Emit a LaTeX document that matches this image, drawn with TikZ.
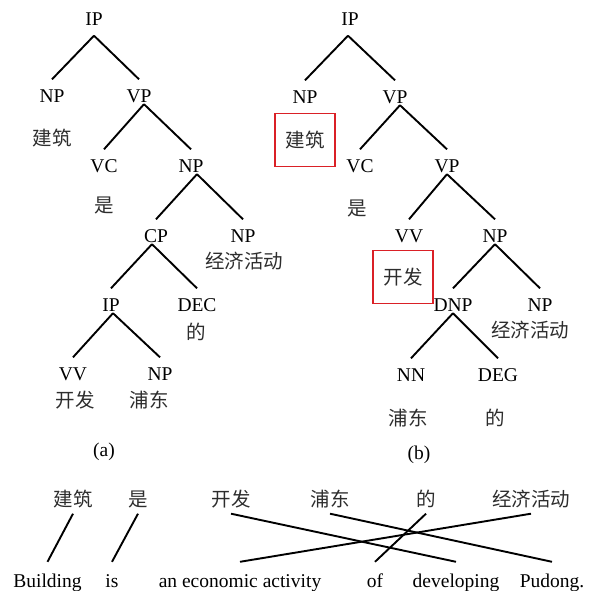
\documentclass[tikz,border=0pt]{standalone}
\usepackage{fontspec}
\setmainfont{Liberation Serif}
\newfontfamily\cjk{Noto Sans CJK SC}
\usepackage{xcolor}
\usepackage{tikz}
\definecolor{boxred}{RGB}{218,32,38}
\definecolor{zhgray}{RGB}{45,45,45}

\begin{document}
\begin{tikzpicture}[x=1pt, y=-1pt,
    tag/.style={anchor=base, inner sep=0pt, text height=23pt, text depth=1.5pt, font=\fontsize{19.5}{22}\selectfont},
    root/.style={tag, text depth=10pt},
    zh/.style={anchor=base, inner sep=0pt, text height=16pt, text depth=2pt, text=zhgray, font=\cjk\fontsize{19.5}{22}\selectfont},
    hlbox/.style={zh, draw=boxred, line width=1.5pt, minimum width=60pt, minimum height=53pt},
    src/.style={zh, text depth=7.5pt},
    tgt/.style={anchor=base, inner sep=0pt, text height=25.5pt, text depth=0pt, font=\fontsize{19.5}{22}\selectfont},
    branch/.style={line width=1.9pt},
    link/.style={line width=1.9pt}]
    \useasboundingbox (0,0) rectangle (589,591);

    % tree (a)
    \node[root] (a-ip) at (94,25.5) {IP};
    \node[tag] (a-np) at (52,102.5) {NP};
    \node[tag] (a-vp) at (139,102.5) {VP};
    \node[zh] (a-jz) at (52,145) {建筑};
    \node[tag] (a-vc) at (104,172.5) {VC};
    \node[tag] (a-np2) at (191,172.5) {NP};
    \node[zh] (a-shi) at (104,212) {是};
    \node[tag] (a-cp) at (156,242.5) {CP};
    \node[tag] (a-np3) at (243,242.5) {NP};
    \node[zh] (a-jj) at (244,268) {经济活动};
    \node[tag] (a-ip2) at (111,311.5) {IP};
    \node[tag] (a-dec) at (197,311.5) {DEC};
    \node[zh] (a-de) at (196,339) {的};
    \node[tag] (a-vv) at (73,380.5) {VV};
    \node[tag] (a-np4) at (160,380.5) {NP};
    \node[zh] (a-kf) at (75,407) {开发};
    \node[zh] (a-pd) at (149,407) {浦东};
    \node[tag] (cap-a) at (104,456) {(a)};

    \draw[branch] (a-ip.south) -- (a-np.north);
    \draw[branch] (a-ip.south) -- (a-vp.north);
    \draw[branch] ([xshift=5pt]a-vp.south) -- (a-vc.north);
    \draw[branch] ([xshift=5pt]a-vp.south) -- (a-np2.north);
    \draw[branch] ([xshift=6pt]a-np2.south) -- (a-cp.north);
    \draw[branch] ([xshift=6pt]a-np2.south) -- (a-np3.north);
    \draw[branch] ([xshift=-4pt]a-cp.south) -- (a-ip2.north);
    \draw[branch] ([xshift=-4pt]a-cp.south) -- (a-dec.north);
    \draw[branch] ([xshift=2pt]a-ip2.south) -- (a-vv.north);
    \draw[branch] ([xshift=2pt]a-ip2.south) -- (a-np4.north);

    % tree (b)
    \node[root] (b-ip) at (350,25.5) {IP};
    \node[tag] (b-np) at (305,103.5) {NP};
    \node[tag] (b-vp) at (395,103.5) {VP};
    \node[hlbox] (b-jz) at (305,147) {建筑};
    \node[tag] (b-vc) at (360,172.5) {VC};
    \node[tag] (b-vp2) at (447,172.5) {VP};
    \node[zh] (b-shi) at (357,215) {是};
    \node[tag] (b-vv) at (409,242.5) {VV};
    \node[tag] (b-np2) at (495,242.5) {NP};
    \node[hlbox] (b-kf) at (403,284) {开发};
    \node[tag] (b-dnp) at (453,311.5) {DNP};
    \node[tag] (b-np3) at (540,311.5) {NP};
    \node[zh] (b-jj) at (530,337) {经济活动};
    \node[tag] (b-nn) at (411,381.5) {NN};
    \node[tag] (b-deg) at (498,381.5) {DEG};
    \node[zh] (b-pd) at (408,425) {浦东};
    \node[zh] (b-de) at (495,425) {的};
    \node[tag] (cap-b) at (419,459) {(b)};

    \draw[branch] ([xshift=-2pt]b-ip.south) -- (b-np.north);
    \draw[branch] ([xshift=-2pt]b-ip.south) -- (b-vp.north);
    \draw[branch] ([xshift=5pt]b-vp.south) -- (b-vc.north);
    \draw[branch] ([xshift=5pt]b-vp.south) -- (b-vp2.north);
    \draw[branch] (b-vp2.south) -- (b-vv.north);
    \draw[branch] (b-vp2.south) -- (b-np2.north);
    \draw[branch] (b-np2.south) -- (b-dnp.north);
    \draw[branch] (b-np2.south) -- (b-np3.north);
    \draw[branch] (b-dnp.south) -- (b-nn.north);
    \draw[branch] (b-dnp.south) -- (b-deg.north);

    % word alignment
    \node[src] (s-jz) at (73,506) {建筑};
    \node[src] (s-shi) at (138,506) {是};
    \node[src] (s-kf) at (231,506) {开发};
    \node[src] (s-pd) at (330,506) {浦东};
    \node[src] (s-de) at (426,506) {的};
    \node[src] (s-jj) at (531,506) {经济活动};

    \node[tgt] (t-bld) at (47.5,587.5) {Building};
    \node[tgt] (t-is) at (112,587.5) {is};
    \node[tgt] (t-act) at (240,587.5) {an economic activity};
    \node[tgt] (t-of) at (375,587.5) {of};
    \node[tgt] (t-dev) at (456,587.5) {developing};
    \node[tgt] (t-pd) at (552,587.5) {Pudong.};

    \draw[link] (s-jz.south) -- (t-bld.north);
    \draw[link] (s-shi.south) -- (t-is.north);
    \draw[link] (s-kf.south) -- (t-dev.north);
    \draw[link] (s-pd.south) -- (t-pd.north);
    \draw[link] (s-de.south) -- (t-of.north);
    \draw[link] (s-jj.south) -- (t-act.north);
\end{tikzpicture}
\end{document}
